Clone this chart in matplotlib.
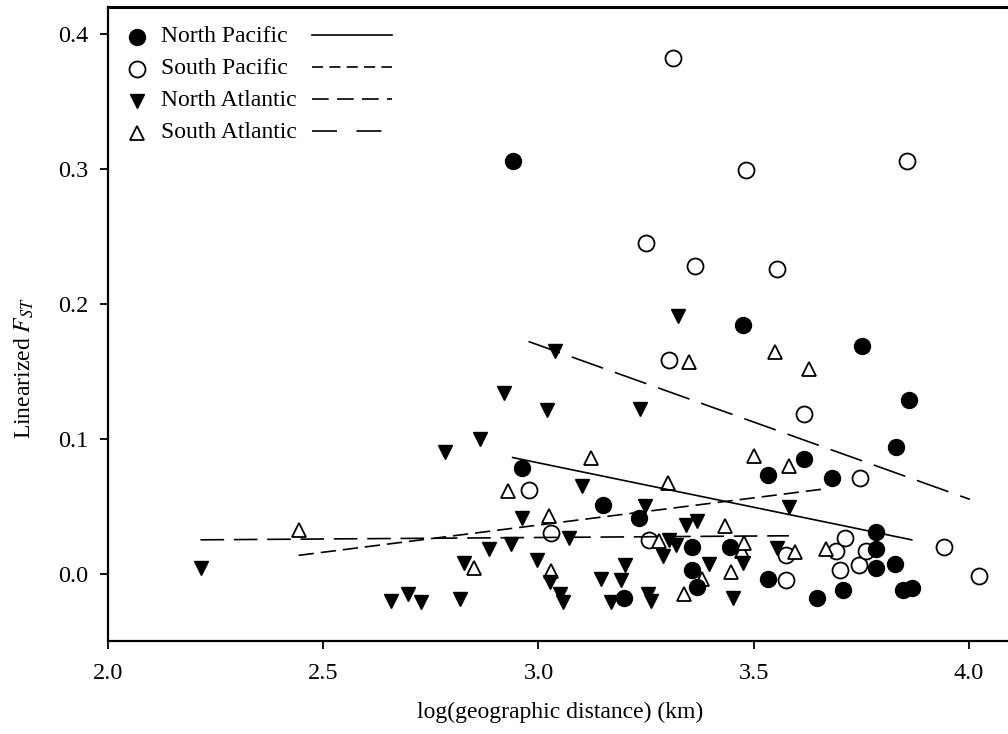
import matplotlib
matplotlib.use("Agg")
import matplotlib.pyplot as plt

plt.rcParams["font.family"] = ["Liberation Serif", "DejaVu Serif"]
plt.rcParams["mathtext.fontset"] = "stix"
plt.rcParams["lines.scale_dashes"] = False

# log10 distance (km) and linearized FST per ocean basin
np_x = [2.941, 2.962, 3.149, 3.198, 3.233, 3.356, 3.356, 3.368, 3.444, 3.476,
        3.533, 3.533, 3.617, 3.646, 3.681, 3.708, 3.752, 3.783, 3.783, 3.783,
        3.829, 3.830, 3.847, 3.861, 3.867]
np_y = [0.306, 0.078, 0.051, -0.018, 0.041, 0.020, 0.003, -0.010, 0.020, 0.184,
        0.073, -0.004, 0.085, -0.018, 0.071, -0.012, 0.169, 0.031, 0.018, 0.004,
        0.007, 0.094, -0.012, 0.129, -0.011]

sp_x = [2.978, 3.028, 3.250, 3.256, 3.304, 3.312, 3.363, 3.482, 3.554, 3.575,
        3.574, 3.617, 3.691, 3.700, 3.711, 3.745, 3.748, 3.761, 3.855, 3.942,
        4.023]
sp_y = [0.062, 0.030, 0.245, 0.025, 0.158, 0.382, 0.228, 0.299, 0.226, 0.014,
        -0.005, 0.118, 0.017, 0.003, 0.026, 0.006, 0.071, 0.017, 0.306, 0.020,
        -0.002]

na_x = [2.215, 2.658, 2.697, 2.728, 2.782, 2.817, 2.826, 2.865, 2.885, 2.919,
        2.937, 2.962, 2.996, 3.020, 3.026, 3.039, 3.050, 3.057, 3.071, 3.101,
        3.145, 3.169, 3.192, 3.200, 3.236, 3.248, 3.255, 3.262, 3.289, 3.304,
        3.320, 3.323, 3.342, 3.368, 3.397, 3.451, 3.474, 3.555, 3.582]
na_y = [0.004, -0.020, -0.015, -0.021, 0.090, -0.019, 0.008, 0.100, 0.018, 0.134,
        0.022, 0.041, 0.010, 0.121, -0.006, 0.165, -0.015, -0.021, 0.026, 0.065,
        -0.004, -0.021, -0.005, 0.006, 0.122, 0.050, -0.015, -0.020, 0.013, 0.025,
        0.021, 0.191, 0.036, 0.039, 0.007, -0.018, 0.008, 0.019, 0.049]

sa_x = [2.444, 2.850, 2.929, 3.024, 3.030, 3.122, 3.281, 3.302, 3.337, 3.350,
        3.381, 3.433, 3.447, 3.472, 3.478, 3.500, 3.550, 3.581, 3.597, 3.629,
        3.667]
sa_y = [0.032, 0.004, 0.061, 0.043, 0.002, 0.086, 0.024, 0.067, -0.015, 0.157,
        -0.004, 0.035, 0.001, 0.017, 0.023, 0.087, 0.164, 0.080, 0.016, 0.152,
        0.018]

# regression lines (start/end points)
fit_solid_x, fit_solid_y = [2.940, 3.867], [0.086, 0.025]
fit_short_x, fit_short_y = [2.443, 3.671], [0.0135, 0.063]
fit_mid_x, fit_mid_y = [2.215, 3.582], [0.025, 0.028]
fit_long_x, fit_long_y = [2.977, 4.002], [0.172, 0.055]

labels = ["North Pacific", "South Pacific", "North Atlantic", "South Atlantic"]
dash_short = (11, 5)
dash_mid = (17, 7)
dash_long = (24, 9)

fig = plt.figure(figsize=(10.08, 7.34), dpi=100)
ax = fig.add_axes([0.1071, 0.1267, 0.8969, 0.8638])

ms_c, ms_t, mew = 11.5, 10.5, 1.3
ax.plot(sp_x, sp_y, "o", ms=ms_c, mfc="white", mec="black", mew=mew, ls="none", zorder=3)
ax.plot(sa_x, sa_y, "^", ms=ms_t, mfc="white", mec="black", mew=mew, ls="none", zorder=3)
ax.plot(na_x, na_y, "v", ms=ms_t, color="black", ls="none", zorder=4)
ax.plot(np_x, np_y, "o", ms=ms_c, color="black", ls="none", zorder=4)

lw = 1.2
ax.plot(fit_solid_x, fit_solid_y, color="black", lw=lw, zorder=5)
ax.plot(fit_short_x, fit_short_y, color="black", lw=lw, dashes=dash_short, zorder=5)
ax.plot(fit_mid_x, fit_mid_y, color="black", lw=lw, dashes=dash_mid, zorder=5)
ax.plot(fit_long_x, fit_long_y, color="black", lw=lw, dashes=dash_long, zorder=5)

ax.set_xlim(2.0, 4.1)
ax.set_ylim(-0.05, 0.42)
ax.set_xticks([2.0, 2.5, 3.0, 3.5, 4.0])
ax.set_yticks([0.0, 0.1, 0.2, 0.3, 0.4])
ax.set_xticklabels(["2.0", "2.5", "3.0", "3.5", "4.0"])
ax.set_yticklabels(["0.0", "0.1", "0.2", "0.3", "0.4"])
ax.tick_params(direction="out", length=6, width=1.3, labelsize=17.5, pad=8)
ax.tick_params(axis="x", pad=10)
for s in ax.spines.values():
    s.set_linewidth(1.6)
ax.spines["top"].set_linewidth(2.2)

ax.set_xlabel("log(geographic distance) (km)", fontsize=17, labelpad=13)
ax.set_ylabel("Linearized $\\mathit{F}_{\\mathit{ST}}$", fontsize=17)
ax.yaxis.set_label_coords(-0.08, 0.43)

# legend: marker, label, then line sample
rows_y = [0.9527, 0.9022, 0.8517, 0.8013]
markers = [dict(marker="o", ms=ms_c, mfc="black", mec="black"),
           dict(marker="o", ms=ms_c, mfc="white", mec="black", mew=mew),
           dict(marker="v", ms=ms_t, mfc="black", mec="black"),
           dict(marker="^", ms=ms_t, mfc="white", mec="black", mew=mew)]
styles = [None, (8, 4.5), (12, 6), (18, 14)]
for yy, lab, mk, st in zip(rows_y, labels, markers, styles):
    ax.plot([0.032], [yy], transform=ax.transAxes, ls="none", clip_on=False, **mk)
    ax.text(0.059, yy, lab, transform=ax.transAxes, fontsize=17, va="center")
    kw = {} if st is None else {"dashes": st}
    ax.plot([0.2257, 0.3142], [yy + 0.003, yy + 0.003], transform=ax.transAxes,
            color="black", lw=lw, **kw)

fig.savefig("out.png", dpi=100)
